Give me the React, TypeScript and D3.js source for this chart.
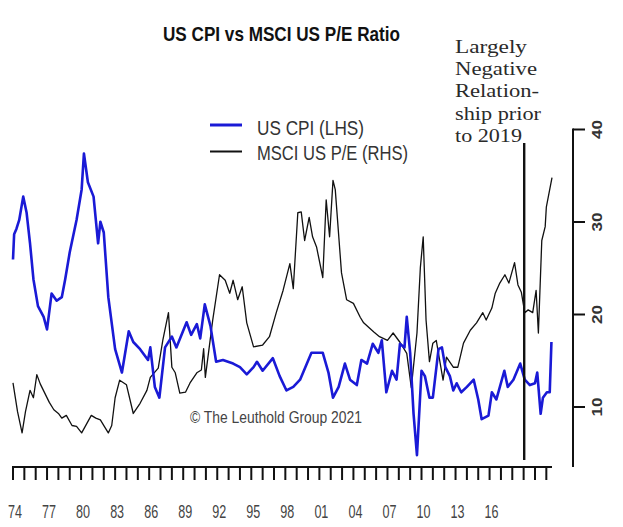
import React from "react";
import * as d3 from "d3";

const peYears = [1974.0,1974.4,1974.8,1975.1,1975.5,1975.8,1976.1,1976.4,1976.8,1977.2,1977.6,1978.0,1978.3,1978.7,1979.2,1979.6,1980.05,1980.5,1980.9,1981.3,1981.7,1982.1,1982.4,1982.7,1983.0,1983.4,1984.0,1984.6,1985.2,1985.8,1986.1,1986.8,1987.2,1987.7,1988.0,1988.3,1988.7,1989.2,1989.6,1990.2,1990.6,1990.8,1990.95,1991.6,1992.2,1992.7,1993.1,1993.4,1993.8,1994.2,1994.6,1995.2,1996.0,1996.6,1997.2,1997.8,1998.4,1998.7,1999.1,1999.4,1999.7,2000.1,2000.4,2000.75,2001.3,2001.6,2001.9,2002.2,2002.4,2002.95,2003.4,2004.0,2004.6,2004.9,2005.8,2006.3,2007.0,2007.5,2008.1,2008.7,2009.1,2009.6,2009.9,2010.15,2010.4,2010.7,2011.0,2011.3,2011.9,2012.2,2012.8,2013.2,2013.7,2014.3,2014.85,2015.4,2015.7,2016.2,2016.5,2016.9,2017.35,2017.7,2018.2,2018.5,2018.8,2019.1,2019.4,2019.8,2020.1,2020.3,2020.6,2020.9,2021.0,2021.5];
const peValues = [12.6,9.5,7.2,9.5,11.8,11.0,13.5,12.5,11.5,10.5,9.7,9.3,8.8,9.1,8.0,7.9,7.2,8.2,9.1,8.8,8.6,7.8,7.2,8.0,11.0,12.9,12.4,9.3,10.4,11.8,13.2,14.2,17.2,20.2,14.3,13.7,11.5,11.6,12.6,13.7,14.0,16.3,13.2,19.4,24.3,23.7,22.3,23.7,21.6,23.0,19.1,16.5,16.7,17.6,20.2,22.6,25.5,22.8,31.0,31.1,28.0,30.5,28.4,27.3,24.0,32.4,28.4,34.5,33.5,24.5,21.6,21.2,19.7,19.1,18.1,17.6,17.2,18.0,17.0,15.8,12.1,18.0,25.1,28.4,19.4,14.9,16.9,17.2,12.9,15.4,14.3,14.3,16.9,18.3,19.1,20.2,19.4,20.7,22.3,23.4,24.3,23.4,25.6,23.2,22.4,20.2,20.5,20.2,22.6,18.0,28.0,29.5,31.6,34.8];

const cpiYears = [1974.0,1974.1,1974.3,1974.55,1974.9,1975.2,1975.5,1975.8,1976.2,1976.7,1977.0,1977.4,1977.85,1978.3,1978.6,1979.0,1979.6,1980.05,1980.25,1980.6,1981.1,1981.5,1981.7,1982.0,1982.4,1983.0,1983.6,1984.2,1984.6,1985.2,1985.9,1986.1,1986.5,1986.9,1987.4,1988.0,1988.4,1989.3,1989.7,1990.2,1990.5,1990.9,1991.4,1991.9,1992.5,1993.4,1994.0,1994.6,1995.2,1995.5,1996.0,1996.9,1997.5,1998.1,1998.7,1999.3,2000.3,2001.3,2001.8,2002.2,2002.7,2003.25,2003.7,2004.3,2004.7,2005.2,2005.7,2006.2,2006.5,2006.9,2007.4,2007.8,2008.1,2008.5,2008.7,2009.0,2009.3,2009.6,2010.0,2010.3,2010.7,2011.0,2011.5,2011.8,2012.1,2012.5,2012.8,2013.1,2013.5,2014.0,2014.6,2015.0,2015.3,2015.9,2016.2,2016.6,2017.3,2017.6,2018.1,2018.7,2019.1,2019.55,2020.0,2020.2,2020.5,2020.7,2021.05,2021.3,2021.45];
const cpiValues = [8.8,10.2,10.5,11.0,12.3,11.4,9.7,7.7,6.2,5.6,4.9,6.9,6.5,6.7,7.7,9.2,11.0,12.7,14.7,13.1,12.3,9.7,10.9,10.3,6.7,3.8,2.5,4.8,4.2,3.8,3.2,3.9,1.7,1.1,3.9,4.5,3.9,5.3,4.6,5.2,4.4,6.3,5.1,3.1,3.2,3.0,2.8,2.4,2.8,3.1,2.6,3.3,2.3,1.5,1.7,2.1,3.6,3.6,2.5,1.1,1.7,3.0,2.1,1.8,3.2,3.0,4.1,3.6,4.3,1.4,2.6,2.1,4.1,3.9,5.6,3.6,0.2,-2.1,2.6,2.3,1.1,1.1,3.8,3.9,2.8,2.3,1.5,1.9,1.4,1.7,2.1,1.0,-0.1,0.1,1.4,1.0,2.6,1.7,2.1,3.0,2.1,1.8,1.9,2.5,0.2,1.1,1.4,1.4,4.2];

const xTickYears = d3.range(1974, 2022);
const xLabelYears = [1974,1977,1980,1983,1986,1989,1992,1995,1998,2001,2004,2007,2010,2013,2016];
const rightTicks = [10, 20, 30, 40];
const annotationLines = ["Largely", "Negative", "Relation-", "ship prior", "to 2019"];
const annotationWidths = [72, 82, 84, 86, 67];
const markerYear = 2019.05;

const W = 623, H = 527;

export default function App() {
  const x = d3.scaleLinear().domain([1974, 2021.5]).range([13, 552]);
  const yL = d3.scaleLinear().domain([0, 15]).range([417.4, 148.15]);
  const yR = d3.scaleLinear().domain([10, 40]).range([407, 129.5]);

  const peLine = d3.line<number>().x((_, i) => x(peYears[i])).y((d) => yR(d))(peValues) || "";
  const cpiLine = d3.line<number>().x((_, i) => x(cpiYears[i])).y((d) => yL(d))(cpiValues) || "";

  const axisY = 467;
  const axisX = 573;
  const sans = "'Liberation Sans', Arial, sans-serif";
  const serif = "'Liberation Serif', 'Times New Roman', serif";

  return (
    <svg width={W} height={H} style={{ position: "absolute", left: 0, top: 0, background: "#fff" }}>
      <rect x={0} y={0} width={W} height={H} fill="#fff" />
      {/* Title */}
      <text x={163} y={41} fontFamily={sans} fontWeight="bold" fontSize={21} fill="#111"
        textLength={237} lengthAdjust="spacingAndGlyphs">US CPI vs MSCI US P/E Ratio</text>

      {/* Legend */}
      <line x1={210} x2={242} y1={125} y2={125} stroke="#1a1ad6" strokeWidth={3} />
      <line x1={210} x2={242} y1={151.5} y2={151.5} stroke="#111" strokeWidth={2} />
      <text x={257} y={135} fontFamily={sans} fontSize={20} fill="#333" textLength={107} lengthAdjust="spacingAndGlyphs">US CPI (LHS)</text>
      <text x={257} y={160} fontFamily={sans} fontSize={20} fill="#333" textLength={151} lengthAdjust="spacingAndGlyphs">MSCI US P/E (RHS)</text>

      {/* Annotation */}
      {annotationLines.map((t, i) => (
        <text key={t} x={455} y={53 + i * 22.2} fontFamily={serif} fontSize={19.5} fill="#2a2a2a"
          textLength={annotationWidths[i]} lengthAdjust="spacingAndGlyphs">{t}</text>
      ))}

      {/* Copyright */}
      <text x={190} y={423} fontFamily={sans} fontSize={16.5} fill="#444" textLength={172} lengthAdjust="spacingAndGlyphs">© The Leuthold Group 2021</text>

      {/* Series */}
      <path d={peLine} fill="none" stroke="#111" strokeWidth={1.3} strokeLinejoin="round" />
      <path d={cpiLine} fill="none" stroke="#1a1ad6" strokeWidth={2.6} strokeLinejoin="round" />

      {/* 2019 marker */}
      <line x1={x(markerYear)} x2={x(markerYear)} y1={143} y2={460} stroke="#111" strokeWidth={2.4} />

      {/* X axis */}
      <line x1={x(1974) - 1} x2={x(2021.5)} y1={axisY} y2={axisY} stroke="#111" strokeWidth={2} />
      {xTickYears.map((yr) => (
        <line key={yr} x1={x(yr)} x2={x(yr)} y1={axisY} y2={axisY + 13} stroke="#111" strokeWidth={2} />
      ))}
      {xLabelYears.map((yr) => (
        <text key={yr} x={x(yr) + 2} y={518} textAnchor="middle" fontFamily={sans} fontSize={19} fill="#444"
          textLength={14} lengthAdjust="spacingAndGlyphs">{String(yr % 100).padStart(2, "0")}</text>
      ))}

      {/* Right axis */}
      <line x1={axisX} x2={axisX} y1={yR(40) - 1} y2={axisY} stroke="#111" strokeWidth={2} />
      {rightTicks.map((t) => (
        <g key={t}>
          <line x1={axisX} x2={axisX + 12} y1={yR(t)} y2={yR(t)} stroke="#111" strokeWidth={2} />
          <text transform={`translate(${602},${yR(t)}) rotate(-90)`} textAnchor="middle" fontFamily={sans}
            fontWeight="bold" fontSize={14} fill="#333" textLength={19} lengthAdjust="spacingAndGlyphs">{t}</text>
        </g>
      ))}
    </svg>
  );
}
